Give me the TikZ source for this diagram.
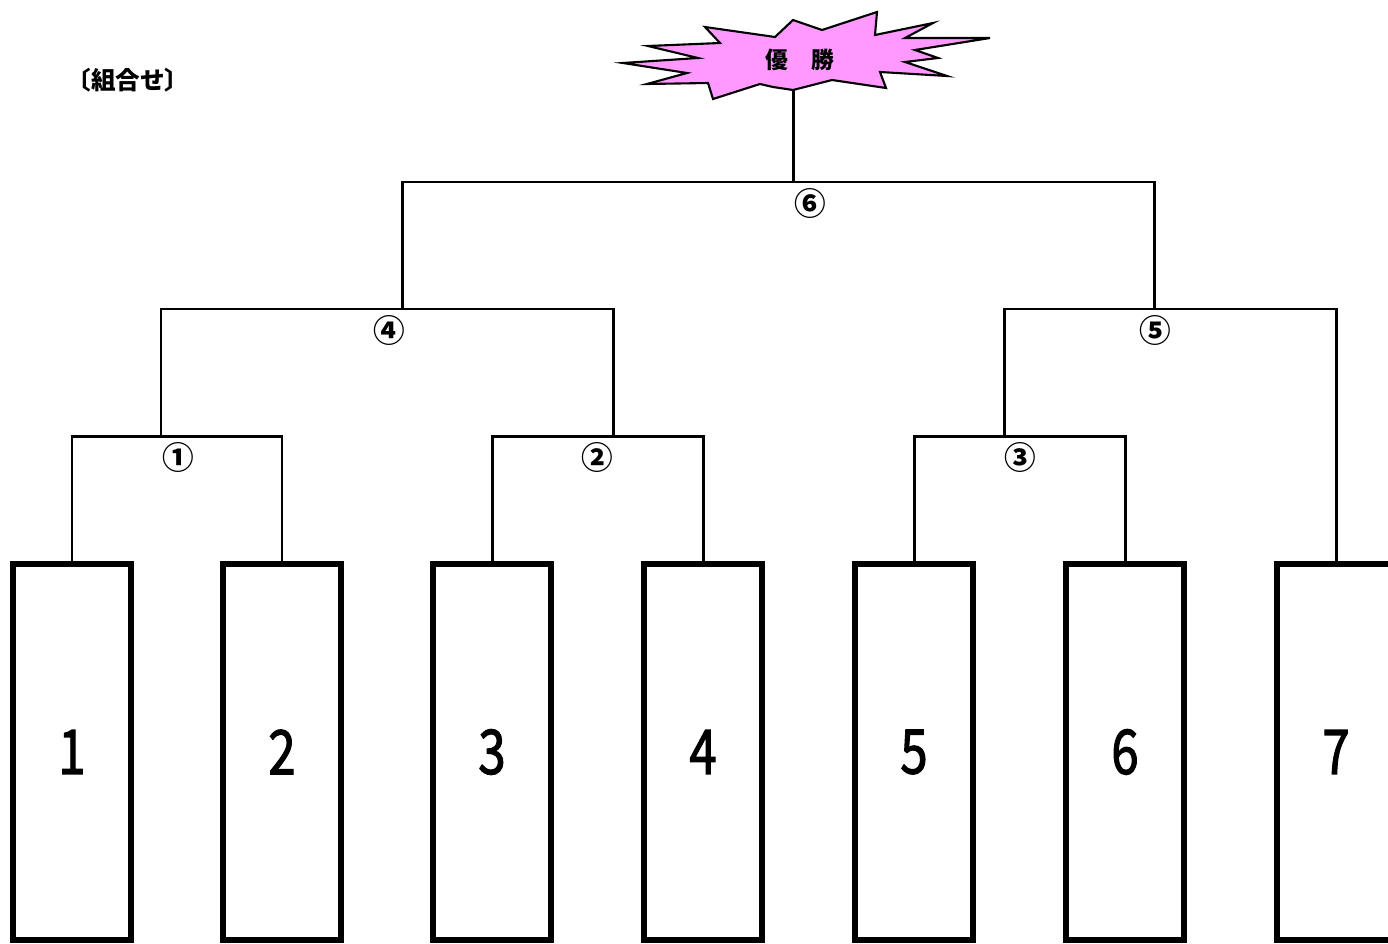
\documentclass[tikz,border=0pt]{standalone}
\usepackage{fontspec}
\newfontfamily\jp{Noto Sans CJK JP}
\newfontfamily\jpnum[FakeBold=2]{Noto Sans CJK JP}
\begin{document}
\begin{tikzpicture}[x=0.02cm, y=-0.02cm,
		team/.style={rectangle, draw, line width=3.4pt, minimum width=2.36cm, minimum height=7.52cm, inner sep=0pt,
			font=\jpnum\fontsize{35}{35}\selectfont},
		bracket/.style={line width=1.7pt},
		round/.style={font=\jp\bfseries\fontsize{18}{18}\selectfont, inner sep=0pt}
		]
	\useasboundingbox (0,0) rectangle (1388,943);
	\node [font=\jp\bfseries\fontsize{14}{14}\selectfont] (title) at (128,80) {〔組合せ〕};
	% teams
	\foreach \n/\x in {1/72, 2/282, 3/492, 4/703, 5/914, 6/1125, 7/1336}
	  \node [team] (b\n) at (\x,752) {\scalebox{0.8}[1]{\n}};
	% junctions
	\coordinate (m1) at (161,436);
	\coordinate (m2) at (613,436);
	\coordinate (m3) at (1004,436);
	\coordinate (m4) at (402,309);
	\coordinate (m5) at (1154,309);
	\coordinate (m6) at (793,182);
	\coordinate (top) at (793,80);
	\draw [bracket] (b1.north) |- (m1) -| (b2.north);
	\draw [bracket] (b3.north) |- (m2) -| (b4.north);
	\draw [bracket] (b5.north) |- (m3) -| (b6.north);
	\draw [bracket] (m1) |- (m4) -| (m2);
	\draw [bracket] (m3) |- (m5) -| (b7.north);
	\draw [bracket] (m4) |- (m6) -| (m5);
	\draw [bracket] (m6) -- (top);
	\node [round] (r1) at (178,457) {①};
	\node [round] (r2) at (597,457) {②};
	\node [round] (r3) at (1020,457) {③};
	\node [round] (r4) at (389,330) {④};
	\node [round] (r5) at (1155,330) {⑤};
	\node [round] (r6) at (810,203) {⑥};
	% winner
	\filldraw [fill={rgb,255:red,255;green,153;blue,255}, line width=1.2pt, line join=miter]
	  (623,63) -- (698,58) -- (648,46) -- (720,43) -- (705,27) -- (775,37) -- (793,20) -- (822,30)
	  -- (877,12) -- (875,35) -- (933,23) -- (905,38) -- (990,38) -- (915,50) -- (938,58) -- (905,62)
	  -- (947,76) -- (880,72) -- (886,88) -- (832,80) -- (793,90) -- (773,87) -- (760,84) -- (713,99)
	  -- (708,83) -- (647,84) -- (687,73) -- cycle;
	\node [font=\jp\bfseries\fontsize{13}{13}\selectfont] (win) at (800,60) {優　勝};
\end{tikzpicture}
\end{document}
